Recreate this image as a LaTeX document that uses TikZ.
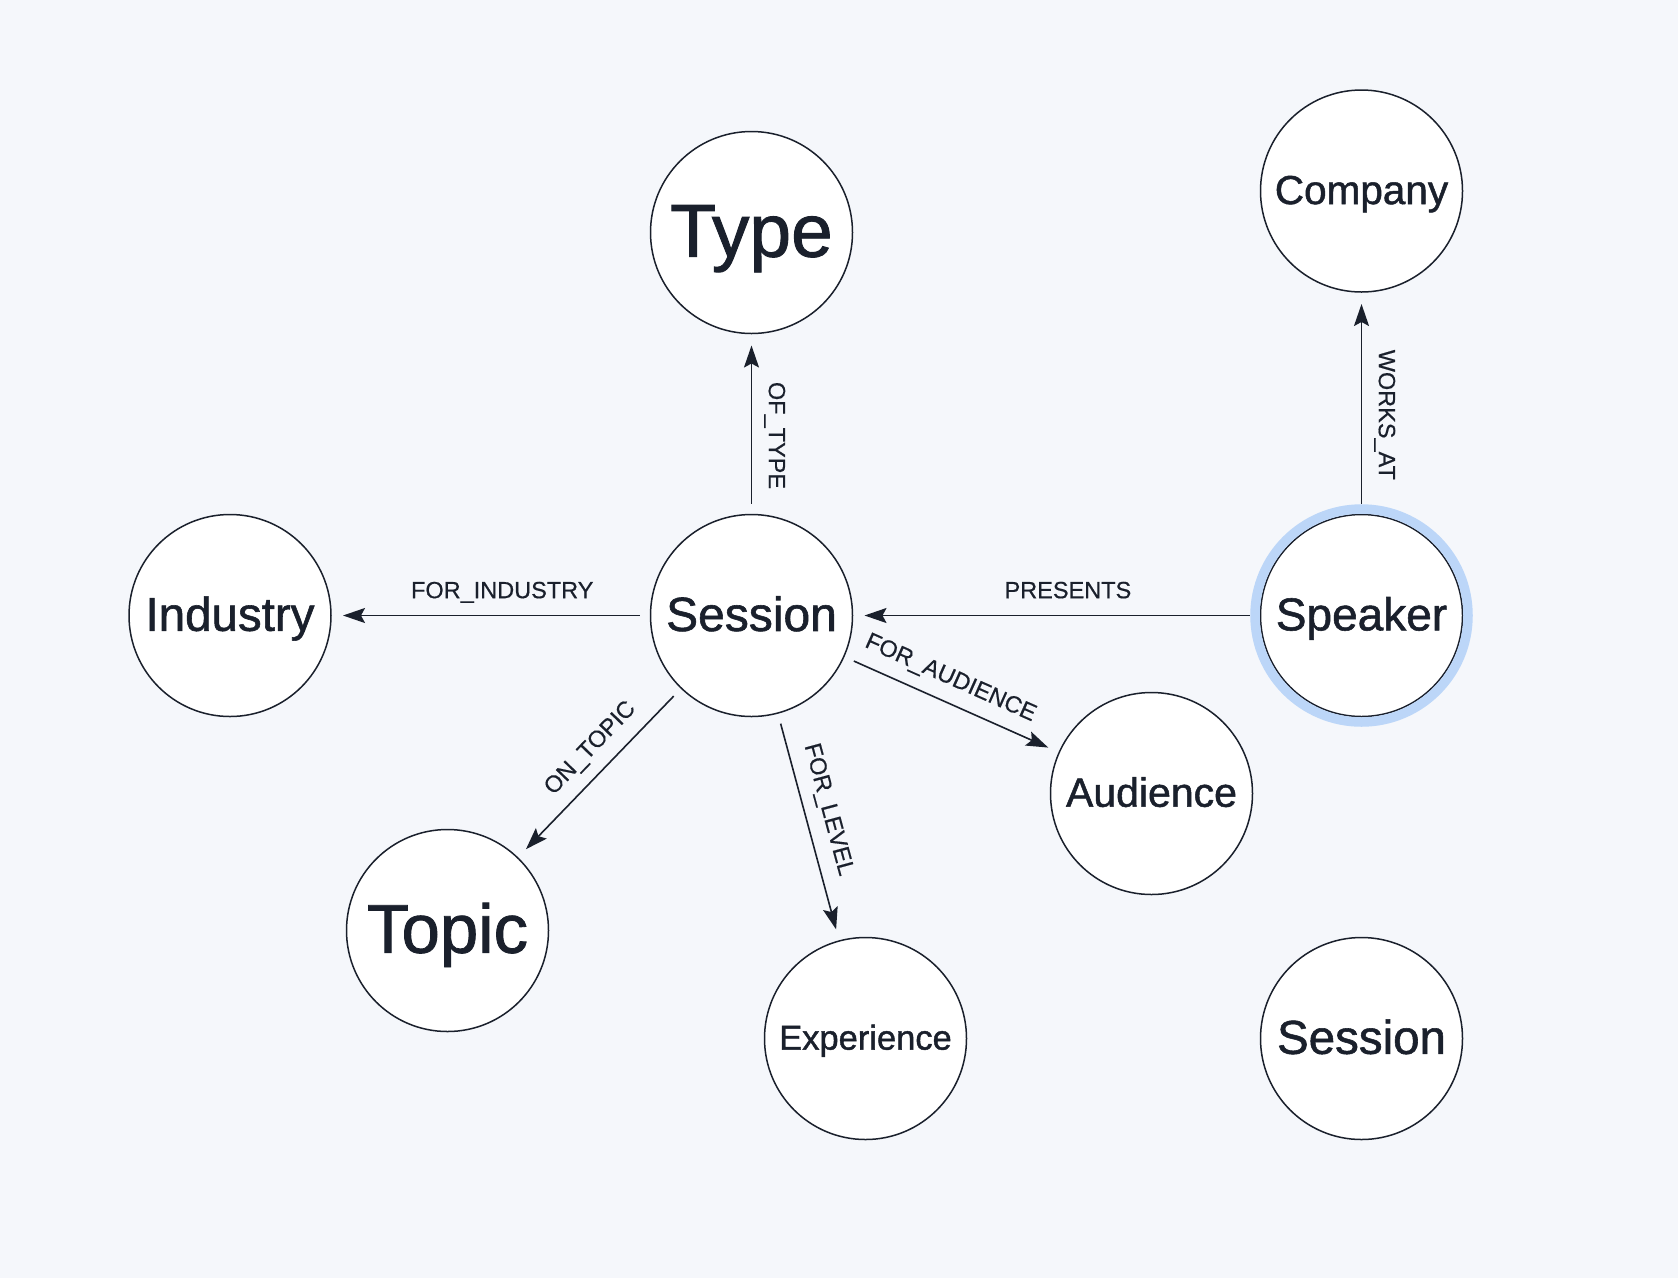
\documentclass[tikz,border=0pt]{standalone}
\usepackage{fontspec}
\setmainfont{Liberation Sans}
\newfontfamily\entfont{Liberation Sans}[FakeBold=1.2]
\newfontfamily\relfont{Liberation Sans}[FakeBold=0.5]
\usetikzlibrary{arrows.meta}
\definecolor{bg}{RGB}{245,247,251}
\definecolor{ink}{RGB}{26,32,44}
\definecolor{halo}{RGB}{188,214,248}
\tikzset{
  ent/.style={circle, draw=ink, fill=white, line width=1.5pt, minimum size=202pt,
    inner sep=0pt, outer sep=0pt, text=ink,
    font=\entfont\fontsize{#1}{#1}\selectfont, text height={0.645*#1pt}, text depth=0pt},
  rel/.style={draw=ink, line width=1.6pt, shorten <=11pt, shorten >=12pt,
    -{Stealth[length=22pt,width=15pt,inset=4pt]}},
  lbl/.style={font=\relfont\fontsize{23.5}{28}\selectfont, text=ink, inner xsep=0pt,
    inner ysep=16.5pt, text height=16.8pt, text depth=0pt, anchor=south},
  haloring/.style={draw=halo, line width=9.5pt},
}
\begin{document}
\begin{tikzpicture}[x=1pt,y=-1pt]
\fill[bg] (0,0) rectangle (1678,1278);
\useasboundingbox (0,0) rectangle (1678,1278);

\node[ent=75] (type) at (751.5,232.5) {Type};
\node[ent=40.5] (comp) at (1361.5,191) {Company};
\node[ent=47.5] (ind) at (230,615.5) {Industry};
\node[ent=48] (sess) at (751.5,615.5) {Session};
\node[ent=46] (spk) at (1361.5,615.5) {Speaker};
\draw[haloring] (spk.center) circle[radius=106.5pt];
\node[ent=41] (aud) at (1151.5,793.5) {Audience};
\node[ent=69] (top) at (447.5,930.5) {Topic};
\node[ent=34.5] (exp) at (865.5,1038.5) {Experience};
\node[ent=47.5] (sess2) at (1361.5,1038.5) {Session};

\draw[rel] (sess) -- node[lbl, pos=0.4365, rotate=-90] {OF\_TYPE} (type);
\draw[rel] (spk) -- node[lbl, pos=0.448, rotate=-90] {WORKS\_AT} (comp);
\draw[rel] (sess) -- node[lbl, pos=0.464] {FOR\_INDUSTRY} (ind);
\draw[rel] (spk) -- node[lbl, pos=0.472] {PRESENTS} (sess);
\draw[rel] (sess) -- node[lbl, pos=0.451, rotate=-24.02] {FOR\_AUDIENCE} (aud);
\draw[rel] (sess) -- node[lbl, pos=0.451, rotate=46.05] {ON\_TOPIC} (top);
\draw[rel] (sess) -- node[lbl, pos=0.451, rotate=-74.9] {FOR\_LEVEL} (exp);
\end{tikzpicture}
\end{document}
